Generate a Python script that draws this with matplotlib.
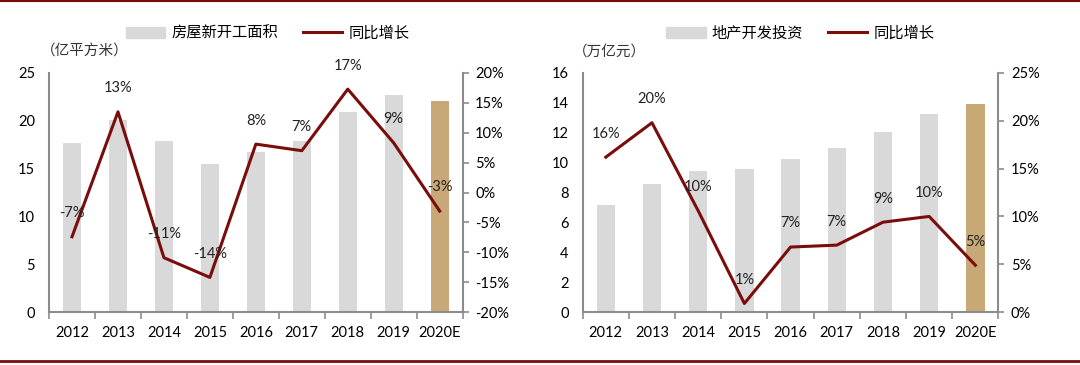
import numpy as np
import matplotlib
matplotlib.use("Agg")
from matplotlib import pyplot as plt
from matplotlib.lines import Line2D
from matplotlib.patches import Patch

plt.rcParams['font.family'] = ['Lato', 'Noto Sans CJK SC', 'DejaVu Sans']

# data
years = ['2012', '2013', '2014', '2015', '2016', '2017', '2018', '2019', '2020E']

area = [17.7, 20.1, 17.9, 15.45, 16.7, 17.85, 20.9, 22.7, 22.1]
area_yoy = [-7.4, 13.5, -10.9, -14.2, 8.1, 7.0, 17.3, 8.3, -3.1]
area_labels = ['-7%', '13%', '-11%', '-14%', '8%', '7%', '17%', '9%', '-3%']

invest = [7.16, 8.57, 9.46, 9.57, 10.24, 10.98, 12.03, 13.23, 13.9]
invest_yoy = [16.2, 19.8, 10.6, 0.9, 6.8, 7.0, 9.4, 10.0, 4.9]
invest_labels = ['16%', '20%', '10%', '1%', '7%', '7%', '9%', '10%', '5%']

GRAY = '#D9D9D9'
TAN = '#C9A877'
RED = '#7A0C0C'
SPINE = '#8C8C8C'
cjk = ['Noto Sans CJK SC', 'DejaVu Sans']

fig = plt.figure(figsize=(10.8, 3.65), dpi=100)


def panel(rect, bars, yoy, labels, ymax, ystep, pmin, pmax, pstep,
          bar_name, unit, unit_x, leg_x):
    ax = fig.add_axes(rect)
    x = np.arange(len(years))
    colors = [GRAY] * (len(years) - 1) + [TAN]
    ax.bar(x, bars, width=0.4, color=colors, zorder=2)
    ax.set_xlim(-0.5, len(years) - 0.5)
    ax.set_ylim(0, ymax)
    ax.set_yticks(np.arange(0, ymax + 0.01, ystep))
    ax.set_xticks(x)
    ax.set_xticklabels(years, fontsize=10.5)
    ax.set_xticks(np.arange(-0.5, len(years)), minor=True)
    ax.tick_params(axis='x', which='major', length=0, pad=10)
    ax.tick_params(axis='x', which='minor', length=5, color=SPINE, width=1.2)
    ax.tick_params(axis='y', length=0, labelsize=10.5, pad=10)
    for s in ['top', 'right']:
        ax.spines[s].set_visible(False)
    for s in ['left', 'bottom']:
        ax.spines[s].set_color(SPINE)
        ax.spines[s].set_linewidth(1.5)

    ax2 = ax.twinx()
    ax2.plot(x, yoy, color=RED, lw=2.2, zorder=3)
    ax2.set_ylim(pmin, pmax)
    ticks = np.arange(pmin, pmax + 0.01, pstep)
    ax2.set_yticks(ticks)
    ax2.set_yticklabels([f'{int(t)}%' for t in ticks], fontsize=10.5)
    ax2.tick_params(axis='y', length=4, color=SPINE, width=1.2, pad=5)
    for s in ['top', 'left', 'bottom']:
        ax2.spines[s].set_visible(False)
    ax2.spines['right'].set_color(SPINE)
    ax2.spines['right'].set_linewidth(1.5)
    for xi, yi, lb in zip(x, yoy, labels):
        ax2.annotate(lb, (xi, yi), xytext=(0, 17), textcoords='offset points',
                     ha='center', va='center', fontsize=10.5, color='#222222', zorder=4)

    ax.text(unit_x, 1.088, '（' + unit + '）', transform=ax.transAxes, ha='center',
            va='center', fontsize=10.5, family=cjk, color='#333333')
    handles = [Patch(color=GRAY), Line2D([0], [0], color=RED, lw=2.2)]
    ax.legend(handles, [bar_name, '同比增长'], loc='center', bbox_to_anchor=(leg_x, 1.167),
              ncol=2, frameon=False, prop={'family': cjk, 'size': 11},
              handlelength=2.6, handletextpad=0.4, columnspacing=1.6)
    return ax


panel([0.0454, 0.145, 0.383, 0.655], area, area_yoy, area_labels,
      25, 5, -20, 20, 5, '房屋新开工面积', '亿平方米', 0.087, 0.528)
panel([0.5395, 0.145, 0.385, 0.655], invest, invest_yoy, invest_labels,
      16, 2, 0, 25, 5, '地产开发投资', '万亿元', 0.065, 0.523)

# frame lines top and bottom
fig.add_artist(Line2D([0, 1], [0.997, 0.997], color=RED, lw=1.5, transform=fig.transFigure))
fig.add_artist(Line2D([0, 1], [0.011, 0.011], color=RED, lw=2, transform=fig.transFigure))

fig.savefig('out.png', dpi=100)
